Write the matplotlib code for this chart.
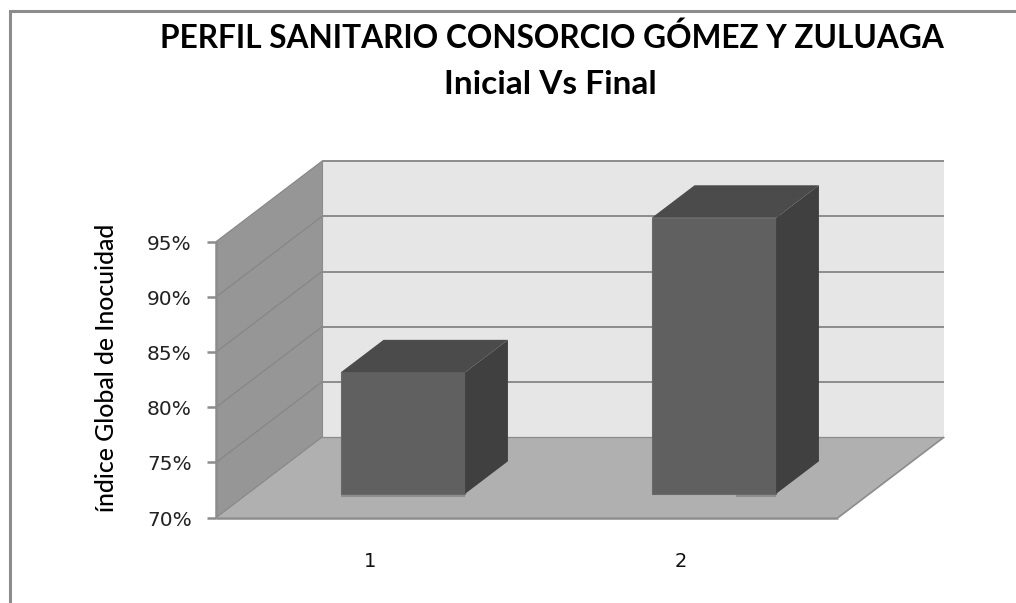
import matplotlib.pyplot as plt
from matplotlib.patches import Polygon
from matplotlib.ticker import FuncFormatter
from matplotlib.lines import Line2D
from matplotlib.transforms import ScaledTranslation

categories = ["1", "2"]
values = [81, 95]
y_ticks = [70, 75, 80, 85, 90, 95]

title = "PERFIL SANITARIO CONSORCIO GÓMEZ Y ZULUAGA\nInicial Vs Final"
ylabel = "índice Global de Inocuidad"

W, H = 1016, 603
# depth of the fake 3d box, in data units
DX = 0.341
DY = 7.3
BAR_W = 0.4
D0, D1 = 0.296, 0.70

GRID = "#8c8c8c"

fig = plt.figure(figsize=(W / 100, H / 100), dpi=100, facecolor="white")
ax = fig.add_axes([216 / W, 1 - 517.7 / H, 622 / W, 276 / H])
ax.set_xlim(0.5, 2.5)
ax.set_ylim(70, 95)
ax.patch.set_visible(False)
for s in ax.spines.values():
    s.set_visible(False)


def poly(pts, color, z, edge=None, lw=0):
    ax.add_patch(Polygon(pts, closed=True, facecolor=color, edgecolor=edge or color,
                         linewidth=lw, zorder=z, clip_on=False))


def line(xs, ys, lw, z, color=GRID):
    ax.plot(xs, ys, color=color, lw=lw, zorder=z, clip_on=False, solid_capstyle="butt")


x0, x1 = ax.get_xlim()
y0, y1 = ax.get_ylim()

# back wall, side wall, floor
poly([(x0 + DX, y0 + DY), (x1 + DX, y0 + DY), (x1 + DX, y1 + DY), (x0 + DX, y1 + DY)], "#e6e6e6", 1)
poly([(x0, y0), (x0 + DX, y0 + DY), (x0 + DX, y1 + DY), (x0, y1)], "#969696", 1)
poly([(x0, y0), (x1, y0), (x1 + DX, y0 + DY), (x0 + DX, y0 + DY)], "#b0b0b0", 1)

# gridlines on the walls
for t in y_ticks[1:]:
    line([x0, x0 + DX], [t, t + DY], 0.8, 2, "#858585")
    line([x0 + DX, x1 + DX], [t + DY, t + DY], 1.4, 2)
line([x0 + DX, x1 + DX], [y0 + DY, y0 + DY], 0.9, 2)
line([x0, x0 + DX], [y0, y0 + DY], 0.8, 2, "#858585")
line([x0, x1], [y0, y0], 1.8, 3)
line([x1, x1 + DX], [y0, y0 + DY], 1.2, 3)
line([x0, x0], [y0, y1], 1.8, 3)
line([x0 + DX, x0 + DX], [y0 + DY, y1 + DY], 0.8, 2)

# bars sit part way into the box, so the whole bar is shifted by its depth
for i, v in enumerate(values):
    c = i + 1
    l = c - BAR_W / 2 + D0 * DX
    r = c + BAR_W / 2 + D0 * DX
    b = y0 + D0 * DY
    t = v + D0 * DY
    ddx = (D1 - D0) * DX
    ddy = (D1 - D0) * DY
    poly([(l, b), (r, b), (r, t), (l, t)], "#606060", 5, "#6a6a6a", 0.8)
    poly([(l, t), (r, t), (r + ddx, t + ddy), (l + ddx, t + ddy)], "#4b4b4b", 5)
    poly([(r, b), (r + ddx, b + ddy), (r + ddx, t + ddy), (r, t)], "#404040", 5)
    shade_start = l if i == 0 else (l + r) / 2 + 0.07
    line([shade_start, r], [b - 0.15, b - 0.15], 1.5, 4, "#8f8f8f")

ax.set_yticks(y_ticks)
ax.yaxis.set_major_formatter(FuncFormatter(lambda v, p: f"{v:.0f}%"))
ax.set_xticks([1, 2])
ax.set_xticklabels(categories)
ax.tick_params(axis="y", length=6.5, width=1.8, color=GRID, pad=11, labelsize=14.5, labelcolor="#222222")
ax.tick_params(axis="x", length=0, pad=25, labelsize=14, labelcolor="#111111")
shift_down = ScaledTranslation(0, -2.5 / 100, fig.dpi_scale_trans)
for lab in ax.get_yticklabels():
    lab.set_va("center")
    lab.set_transform(lab.get_transform() + shift_down)
shift_left = ScaledTranslation(-1.5 / 100, 0, fig.dpi_scale_trans)
for lab in ax.get_xticklabels():
    lab.set_transform(lab.get_transform() + shift_left)

fig.text(107 / W, 1 - 368 / H, ylabel, rotation=90, ha="center", va="center",
         fontsize=17.8, family="Lato", fontweight="medium", color="black")
fig.text(552 / W, 1 - 38 / H, title.split("\n")[0], ha="center", va="center",
         fontsize=22.8, family="Lato", fontweight="bold", color="black")
fig.text(550 / W, 1 - 85 / H, title.split("\n")[1], ha="center", va="center",
         fontsize=24, family="Lato", fontweight="bold", color="black")

# chart frame, only the left and top sides are in the picture
fig.add_artist(Line2D([10 / W, 10 / W, 1], [0, 1 - 11 / H, 1 - 11 / H], color=GRID, lw=2.2,
                      transform=fig.transFigure, solid_joinstyle="miter"))

fig.savefig("out.png", dpi=100)
